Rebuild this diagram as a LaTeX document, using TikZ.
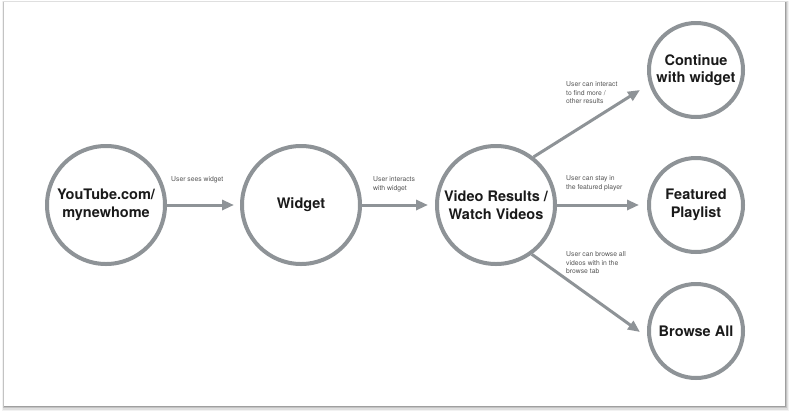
\documentclass[tikz,border=0pt]{standalone}
\usepackage{fontspec}
\setmainfont{TeX Gyre Heros}
\usetikzlibrary{arrows.meta}
\definecolor{ringgray}{HTML}{8E9397}
\definecolor{labelgray}{HTML}{555555}
\definecolor{titleink}{HTML}{1A1A1A}
\tikzset{
  bigstate/.style={circle, draw=ringgray, line width=4pt, minimum size=118pt, inner sep=0pt,
    align=center, text=titleink, font=\fontsize{14.5}{17.5}\selectfont\bfseries},
  smallstate/.style={bigstate, minimum size=94pt},
  flow/.style={draw=ringgray, line width=3pt, -{Triangle[length=12pt,width=10pt]}},
  note/.style={anchor=north west, inner sep=0pt, align=left, text=labelgray,
    font=\fontsize{6.8}{8.6}\selectfont}
}
\begin{document}
\begin{tikzpicture}[x=1pt,y=-1pt]
\useasboundingbox (0,0) rectangle (789,413);
\fill[white] (0,0) rectangle (789,413);
% card shadow
\foreach \o/\op in {4/0.05,3/0.08,2/0.12,1/0.18}{
  \fill[black,opacity=\op] (4-\o*0.4,2-\o*0.2) rectangle (785+\o,406+\o*1.2);
}
\fill[white] (4,2) rectangle (785,406);

\node[bigstate] (yt) at (106,205) {YouTube.com/\\mynewhome};
\node[bigstate] (wg) at (301,205) {Widget};
\node[bigstate] (vr) at (496,205) {Video Results /\\Watch Videos};
\node[smallstate] (cw) at (696,70) {Continue\\with widget};
\node[smallstate] (fp) at (696,205) {Featured\\Playlist};
\node[smallstate] (ba) at (696,331) {Browse All};

\coordinate (cwtip) at (640,90);
\coordinate (batip) at (640,332);

\draw[flow, shorten >=6pt] (yt) -- (wg);
\draw[flow, shorten >=7pt] (wg) -- (vr);
\draw[flow] (vr.52) -- (cwtip);
\draw[flow, shorten >=8pt] (vr) -- (fp);
\draw[flow] (vr.-54) -- (batip);

\node[note] (n1) at (171,176.3) {User sees widget};
\node[note] (n2) at (373,176.3) {User interacts\\with widget};
\node[note] (n3) at (566,81.3) {User can interact\\to find more /\\other results};
\node[note] (n4) at (566,175.3) {User can stay in\\the featured player};
\node[note] (n5) at (566,251.3) {User can browse all\\videos with in the\\browse tab};
\end{tikzpicture}
\end{document}
